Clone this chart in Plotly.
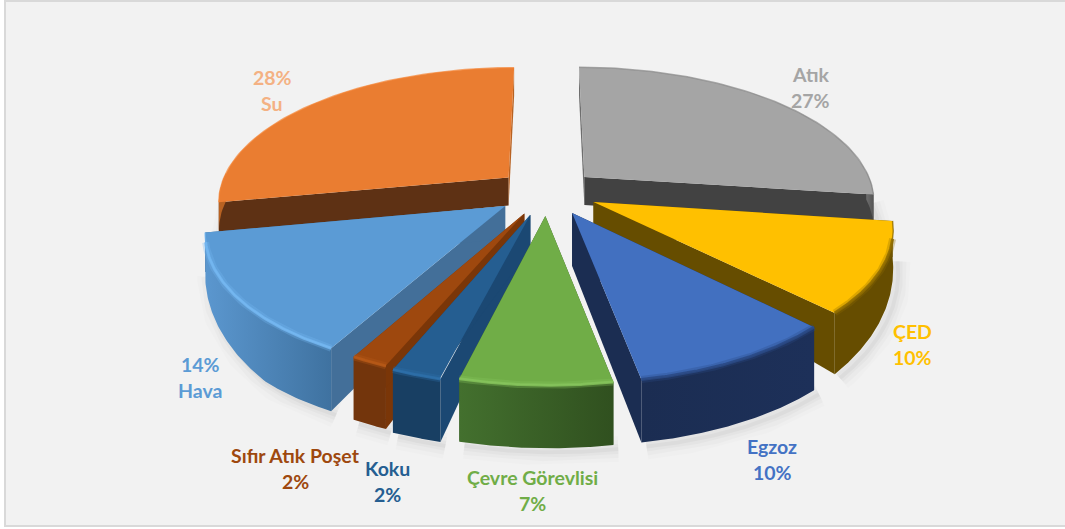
import numpy as np
import plotly.graph_objects as go

# ---- data ----
categories = ["Atık", "ÇED", "Egzoz", "Çevre Görevlisi", "Koku", "Sıfır Atık Poşet", "Hava", "Su"]
values = [27, 10, 10, 7, 2.3, 1.7, 14, 28]
percent_first = [False, False, False, False, False, False, True, True]

# ---- styles ----
top_colors = ["#A5A5A5", "#FFC000", "#4270C0", "#70AD47", "#255E91", "#9E480E", "#5B9BD5", "#EA7D31"]
cut_colors = ["#424242", "#664D00", "#1B2D52", "#38562A", "#1B4873", "#7A3608", "#436F99", "#5E3114"]
wall_left = ["#6E6E6E", "#664D00", "#1B2D52", "#43702E", "#183F63", "#73350C", "#5B97CF", "#B86222"]
wall_right = ["#555555", "#664D00", "#1D3059", "#30501F", "#183F63", "#73350C", "#3F72A0", "#B86222"]
bevel_colors = ["#8A8A8A", "#8F6C00", "#2B4A85", "#86C45C", "#2E70AA", "#B85A18", "#75B8F2", "#F58536"]
label_colors = ["#A5A5A5", "#FFC000", "#4472C4", "#70AD47", "#255E91", "#9E480E", "#5B9BD5", "#F4B183"]
label_centers = [(810, 87), (912, 344), (772, 459), (532, 490), (387, 481), (295, 468), (200, 377), (272, 90)]
apex_drop = [None, None, 53, None, None, None, None, None]
rim_nudge = [(0, 0), (0, 0), (0, 0), (4, -2), (3, 0), (3, -2), (1, 0), (0, 0)]
draw_order = [7, 0, 1, 6, 2, 5, 4, 3]

# ---- projection of the tilted pie ----
CX, CY, RX, K, PERSP, EXPLODE = 547, 192, 290, 133, 0.17, 0.175


def project(X, Y):
    s = 1 / (1 + PERSP * np.asarray(Y, float))
    return CX + RX * np.asarray(X, float) * s, CY - K * np.asarray(Y, float) * s


def warp(t):
    # the view is slightly skewed: lower-right boundaries sit a little further round
    return t + 0.04 * np.exp(-((t - np.radians(133)) / np.radians(30)) ** 2)


def drop(sy):
    return np.minimum(63, 28 + np.maximum(0, np.asarray(sy, float) - 190) * 0.27)


fig = go.Figure()
total = sum(values)
starts = np.cumsum([0] + values[:-1]) / total * 2 * np.pi
spans = np.array(values) / total * 2 * np.pi

geometry = []
for i in range(len(values)):
    a0, a1 = starts[i], starts[i] + spans[i]
    mid = (a0 + a1) / 2
    ox, oy = EXPLODE * np.sin(mid), EXPLODE * np.cos(mid)
    t = warp(np.linspace(a0, a1, 80))
    ax, ay = project(ox + np.sin(t), oy + np.cos(t))
    px, py = project(ox, oy)
    nx, ny = rim_nudge[i]
    geometry.append((float(px), float(py), ax + nx, ay + ny, t))

# soft shadow under the front of every slice
for i in draw_order:
    _, _, ax, ay, t = geometry[i]
    front = np.cos(t) < 0.05
    if not front.any():
        continue
    by = ay + drop(ay)
    for w, op in [(26, 0.012), (18, 0.018), (10, 0.025), (4, 0.03)]:
        fig.add_trace(go.Scatter(x=ax[front] + 5, y=by[front] + 4, mode="lines", hoverinfo="skip",
                                 line=dict(color=f"rgba(0,0,0,{op})", width=w)))

for i in draw_order:
    px, py, ax, ay, t = geometry[i]
    by = ay + drop(ay)
    pb = py + (apex_drop[i] if apex_drop[i] is not None else float(drop(py)))
    # the two cut walls
    for e in (0, -1):
        color = wall_left[i] if np.cos(t[e]) > 0.9 else cut_colors[i]
        fig.add_trace(go.Scatter(
            x=[px, ax[e], ax[e], px, px], y=[py, ay[e], by[e], pb, py], mode="lines", fill="toself",
            fillcolor=color, line=dict(width=0), hoverinfo="skip"))
    # outer wall, only where it faces the viewer
    front = np.cos(t) < 0.05
    if front.any():
        fx, fy, fb = ax[front], ay[front], by[front]
        fig.add_trace(go.Scatter(
            x=np.r_[fx, fx[::-1]], y=np.r_[fy, fb[::-1]], mode="lines", fill="toself",
            line=dict(width=0), hoverinfo="skip",
            fillgradient=dict(type="horizontal", colorscale=[[0, wall_left[i]], [1, wall_right[i]]])))
    # top face
    fig.add_trace(go.Scatter(
        x=np.r_[px, ax, px], y=np.r_[py, ay, py], mode="lines", fill="toself",
        fillcolor=top_colors[i], line=dict(width=0), hoverinfo="skip"))
    # bevel along the rim: broad on the front, hairline on the back and sides
    broad = np.cos(t) < -0.25
    if broad.any():
        for w, op in [(7, 0.3), (3, 0.8)]:
            fig.add_trace(go.Scatter(x=ax[broad], y=ay[broad], mode="lines", hoverinfo="skip", opacity=op,
                                     line=dict(color=bevel_colors[i], width=w)))
    fig.add_trace(go.Scatter(x=ax, y=ay, mode="lines", hoverinfo="skip", opacity=0.7,
                             line=dict(color=bevel_colors[i], width=1.5)))

annotations = []
for i, name in enumerate(categories):
    pct = f"{round(values[i])}%"
    lines = [pct, name] if percent_first[i] else [name, pct]
    cx, cy = label_centers[i]
    for j, text in enumerate(lines):
        annotations.append(dict(x=cx, y=cy + (j - 0.5) * 26, text=f"<b>{text}</b>", showarrow=False,
                                xref="x", yref="y", xanchor="center", yanchor="middle",
                                font=dict(family="Lato", size=19.5, color=label_colors[i])))

fig.update_layout(
    width=1065, height=529, margin=dict(l=0, r=0, t=0, b=0),
    paper_bgcolor="white", plot_bgcolor="rgba(0,0,0,0)", showlegend=False,
    xaxis=dict(range=[0, 1065], visible=False, fixedrange=True),
    yaxis=dict(range=[529, 0], visible=False, fixedrange=True),
    shapes=[dict(type="rect", x0=5, y0=1, x1=1075, y1=526, layer="below",
                 fillcolor="#F2F2F2", line=dict(color="#D9D9D9", width=2))],
    annotations=annotations,
)
fig.write_html("out.html", config={"displayModeBar": False},
               post_script="document.body.style.margin='0';")
